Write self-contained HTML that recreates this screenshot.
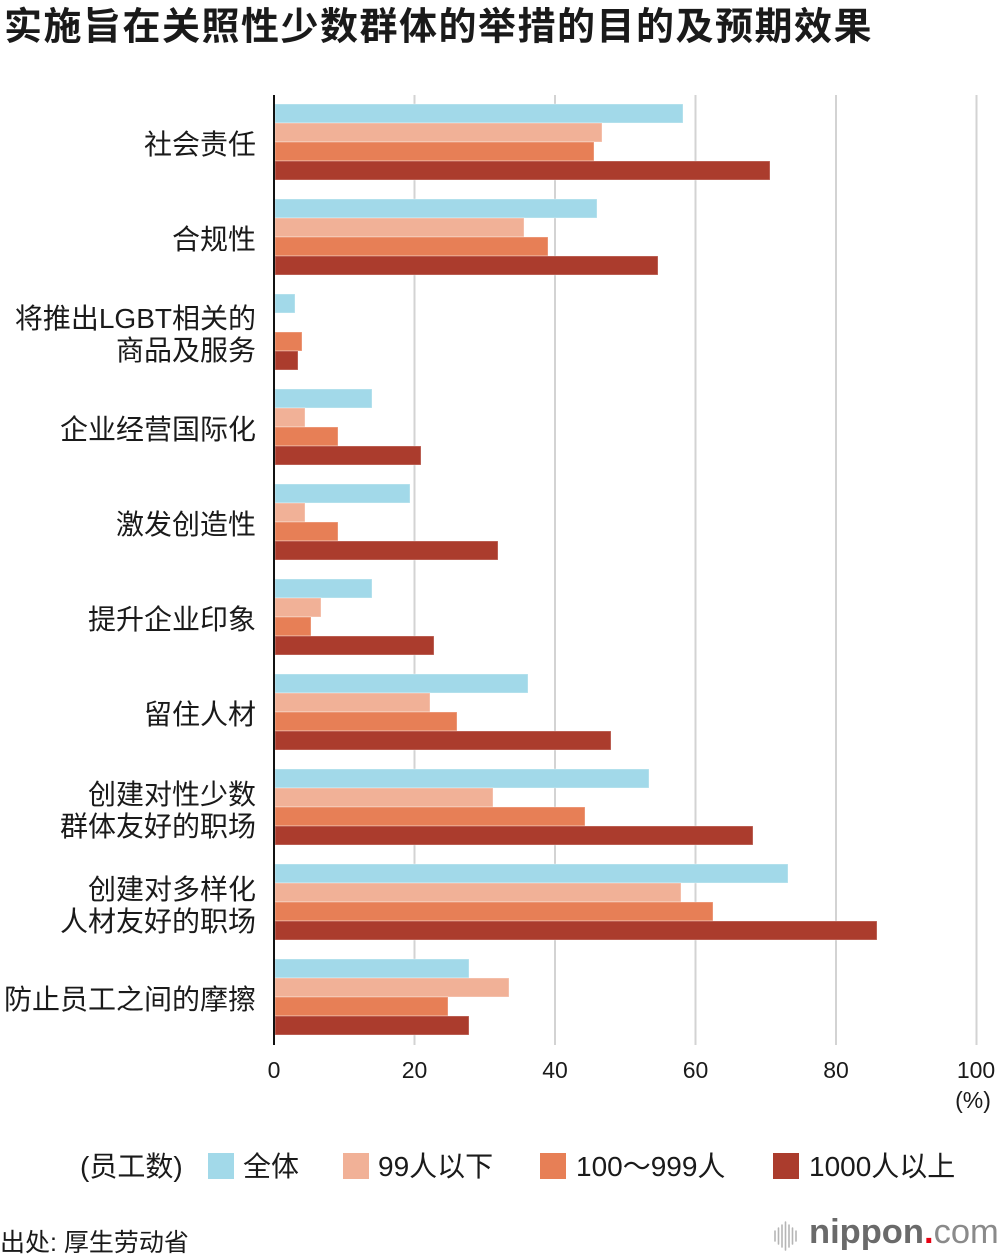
<!DOCTYPE html>
<html>
<head>
<meta charset="utf-8">
<style>
  html, body { margin: 0; padding: 0; background: #ffffff; }
  body { width: 1000px; height: 1260px; overflow: hidden; }
  svg { display: block; }
  text { font-family: "Liberation Sans", "Noto Sans CJK SC", sans-serif; fill: #1a1a1a; }
</style>
</head>
<body>
<svg width="1000" height="1260" viewBox="0 0 1000 1260" xmlns="http://www.w3.org/2000/svg">
  <rect x="0" y="0" width="1000" height="1260" fill="#ffffff"/>

  <!-- Title -->
  <text x="4" y="39.5" font-size="38" font-weight="bold" letter-spacing="1.5" fill="#111">实施旨在关照性少数群体的举措的目的及预期效果</text>

  <!-- Gridlines -->
  <g stroke="#d3d3d3" stroke-width="2">
    <line x1="414.5" y1="95" x2="414.5" y2="1045"/>
    <line x1="555" y1="95" x2="555" y2="1045"/>
    <line x1="695.5" y1="95" x2="695.5" y2="1045"/>
    <line x1="836" y1="95" x2="836" y2="1045"/>
    <line x1="976.5" y1="95" x2="976.5" y2="1045"/>
  </g>

  <!-- Bars -->
  <g stroke="rgba(255,255,255,0.35)" stroke-width="1">
    <rect x="275" y="104" width="408" height="19" fill="#a2d9e9"/>
    <rect x="275" y="123" width="327" height="19" fill="#f1b197"/>
    <rect x="275" y="142" width="319" height="19" fill="#e77f56"/>
    <rect x="275" y="161" width="495" height="19" fill="#ab3c2d"/>

    <rect x="275" y="199" width="322" height="19" fill="#a2d9e9"/>
    <rect x="275" y="218" width="249" height="19" fill="#f1b197"/>
    <rect x="275" y="237" width="273" height="19" fill="#e77f56"/>
    <rect x="275" y="256" width="383" height="19" fill="#ab3c2d"/>

    <rect x="275" y="294" width="20" height="19" fill="#a2d9e9"/>
    <rect x="275" y="332" width="27" height="19" fill="#e77f56"/>
    <rect x="275" y="351" width="23" height="19" fill="#ab3c2d"/>

    <rect x="275" y="389" width="97" height="19" fill="#a2d9e9"/>
    <rect x="275" y="408" width="30" height="19" fill="#f1b197"/>
    <rect x="275" y="427" width="63" height="19" fill="#e77f56"/>
    <rect x="275" y="446" width="146" height="19" fill="#ab3c2d"/>

    <rect x="275" y="484" width="135" height="19" fill="#a2d9e9"/>
    <rect x="275" y="503" width="30" height="19" fill="#f1b197"/>
    <rect x="275" y="522" width="63" height="19" fill="#e77f56"/>
    <rect x="275" y="541" width="223" height="19" fill="#ab3c2d"/>

    <rect x="275" y="579" width="97" height="19" fill="#a2d9e9"/>
    <rect x="275" y="598" width="46" height="19" fill="#f1b197"/>
    <rect x="275" y="617" width="36" height="19" fill="#e77f56"/>
    <rect x="275" y="636" width="159" height="19" fill="#ab3c2d"/>

    <rect x="275" y="674" width="253" height="19" fill="#a2d9e9"/>
    <rect x="275" y="693" width="155" height="19" fill="#f1b197"/>
    <rect x="275" y="712" width="182" height="19" fill="#e77f56"/>
    <rect x="275" y="731" width="336" height="19" fill="#ab3c2d"/>

    <rect x="275" y="769" width="374" height="19" fill="#a2d9e9"/>
    <rect x="275" y="788" width="218" height="19" fill="#f1b197"/>
    <rect x="275" y="807" width="310" height="19" fill="#e77f56"/>
    <rect x="275" y="826" width="478" height="19" fill="#ab3c2d"/>

    <rect x="275" y="864" width="513" height="19" fill="#a2d9e9"/>
    <rect x="275" y="883" width="406" height="19" fill="#f1b197"/>
    <rect x="275" y="902" width="438" height="19" fill="#e77f56"/>
    <rect x="275" y="921" width="602" height="19" fill="#ab3c2d"/>

    <rect x="275" y="959" width="194" height="19" fill="#a2d9e9"/>
    <rect x="275" y="978" width="234" height="19" fill="#f1b197"/>
    <rect x="275" y="997" width="173" height="19" fill="#e77f56"/>
    <rect x="275" y="1016" width="194" height="19" fill="#ab3c2d"/>
  </g>

  <!-- Axis -->
  <line x1="274" y1="95" x2="274" y2="1045" stroke="#111" stroke-width="2"/>

  <!-- Category labels -->
  <g font-size="28" text-anchor="end">
    <text x="256" y="154">社会责任</text>
    <text x="256" y="249">合规性</text>
    <text x="256" y="328">将推出LGBT相关的</text>
    <text x="256" y="360">商品及服务</text>
    <text x="256" y="439">企业经营国际化</text>
    <text x="256" y="534">激发创造性</text>
    <text x="256" y="629">提升企业印象</text>
    <text x="256" y="724">留住人材</text>
    <text x="256" y="804">创建对性少数</text>
    <text x="256" y="836">群体友好的职场</text>
    <text x="256" y="899">创建对多样化</text>
    <text x="256" y="931">人材友好的职场</text>
    <text x="256" y="1009">防止员工之间的摩擦</text>
  </g>

  <!-- Tick labels -->
  <g font-size="23" text-anchor="middle">
    <text x="274" y="1078">0</text>
    <text x="414.5" y="1078">20</text>
    <text x="555" y="1078">40</text>
    <text x="695.5" y="1078">60</text>
    <text x="836" y="1078">80</text>
    <text x="976" y="1078">100</text>
    <text x="973" y="1108">(%)</text>
  </g>

  <!-- Legend -->
  <g font-size="28">
    <text x="80" y="1176">(员工数)</text>
    <rect x="208" y="1153" width="26" height="26" fill="#a2d9e9"/>
    <text x="243" y="1176">全体</text>
    <rect x="343" y="1153" width="26" height="26" fill="#f1b197"/>
    <text x="378" y="1176">99人以下</text>
    <rect x="540" y="1153" width="26" height="26" fill="#e77f56"/>
    <text x="576" y="1176">100～999人</text>
    <rect x="773" y="1153" width="26" height="26" fill="#ab3c2d"/>
    <text x="809" y="1176">1000人以上</text>
  </g>

  <!-- Source -->
  <text x="0" y="1251" font-size="25">出处: 厚生劳动省</text>

  <!-- nippon.com logo -->
  <g stroke="#b5b5b5" stroke-width="1.6" stroke-linecap="round">
    <line x1="775" y1="1231" x2="775" y2="1241"/>
    <line x1="778.5" y1="1228" x2="778.5" y2="1244"/>
    <line x1="782" y1="1225" x2="782" y2="1247"/>
    <line x1="785.5" y1="1222" x2="785.5" y2="1250"/>
    <line x1="789" y1="1225" x2="789" y2="1247"/>
    <line x1="792.5" y1="1228" x2="792.5" y2="1244"/>
    <line x1="796" y1="1231" x2="796" y2="1241"/>
  </g>
  <text x="809" y="1243" font-size="34.5" font-weight="bold" style="fill:#6a6a6a">nippon<tspan style="fill:#e60012">.</tspan><tspan font-weight="normal" style="fill:#8a8a8a">com</tspan></text>
</svg>
</body>
</html>
